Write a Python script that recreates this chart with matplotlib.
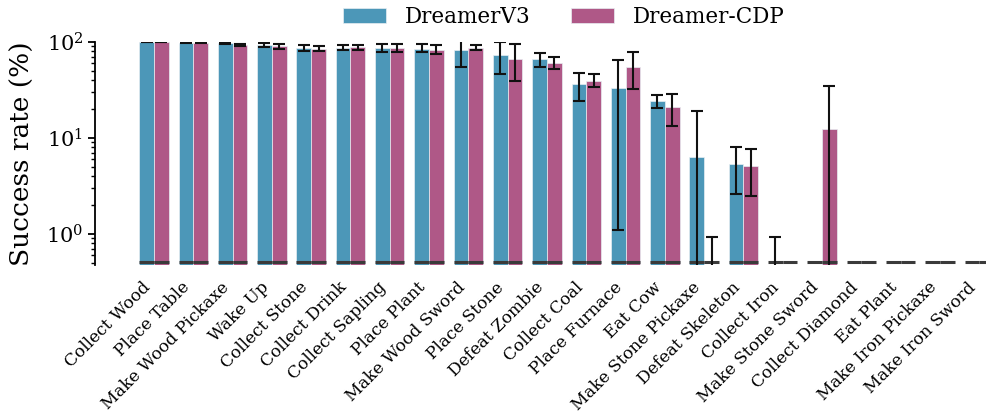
import numpy as np
import matplotlib
matplotlib.use("Agg")
import matplotlib.pyplot as plt

plt.rcParams['font.family'] = ['DejaVu Serif']
plt.rcParams['mathtext.fontset'] = 'dejavuserif'

# tareas de Crafter
tasks = ["Collect Wood", "Place Table", "Make Wood Pickaxe", "Wake Up",
         "Collect Stone", "Collect Drink", "Collect Sapling", "Place Plant",
         "Make Wood Sword", "Place Stone", "Defeat Zombie", "Collect Coal",
         "Place Furnace", "Eat Cow", "Make Stone Pickaxe", "Defeat Skeleton",
         "Collect Iron", "Make Stone Sword", "Collect Diamond", "Eat Plant",
         "Make Iron Pickaxe", "Make Iron Sword"]

# DreamerV3: media, limite inferior, limite superior
v3 = [99.5, 98.3, 97.5, 93, 87, 87, 87, 85.5, 83, 73, 66.5, 36.5,
      33, 24, 6.4, 5.4, 0, 0, 0, 0, 0, 0]
v3_lo = [99, 97.5, 96, 88.5, 81, 83, 79, 78, 55, 46.5, 55.5, 24.5,
         1.1, 20.3, 0, 2.6, 0, 0, 0, 0, 0, 0]
v3_hi = [100, 99, 99, 98, 94, 93, 96, 94.5, 110, 99.5, 77.5, 48,
         65, 27.8, 19.2, 8.1, 0.93, 0, 0, 0, 0, 0]

# Dreamer-CDP
cdp = [99.5, 98.5, 93.7, 90, 85, 88.5, 87, 83, 86.5, 66.5, 61, 39.5,
       55, 21, 0, 5.15, 0, 12.5, 0, 0, 0, 0]
cdp_lo = [99, 97.5, 91, 85, 80, 82, 78, 75.5, 83, 39, 52.3, 34,
          32, 13.4, 0, 2.5, 0, 0, 0, 0, 0, 0]
cdp_hi = [100, 99.5, 96, 96, 91.5, 94, 96, 93, 92, 94.5, 69, 46.7,
          78.7, 29, 0.92, 7.7, 0, 34.5, 0, 0, 0, 0]

c_v3 = '#4c97b8'
c_cdp = '#af5887'
w = 0.375
base = 0.51

fig = plt.figure(figsize=(9.87, 4.15), dpi=100)
ax = fig.add_axes([95/987, 1-265/415, 23*39.3/987, 223/415])
ax.set_yscale('log')

x = np.arange(len(tasks))
series = [(v3, v3_lo, v3_hi, c_v3, 'DreamerV3', -w/2),
          (cdp, cdp_lo, cdp_hi, c_cdp, 'Dreamer-CDP', w/2)]
handles = []
for val, lo, hi, col, lab, off in series:
    val = np.array(val, float)
    lo = np.array(lo, float)
    hi = np.array(hi, float)
    h = ax.bar(x + off, np.where(val > 0, val, np.nan), w, bottom=0.01,
               color=col, edgecolor='#e8eef2', linewidth=0.5,
               label=lab, zorder=2)
    handles.append(h)
    # linea oscura en la base
    ax.hlines([base]*len(x), x + off - w/2, x + off + w/2, color='#3a3a3a',
              linewidth=2.2, zorder=3)
    # barras de error
    m = hi > 0
    lo = np.where(lo > 0, lo, 0.1)
    y = np.where(val > 0, val, hi)
    ax.errorbar((x + off)[m], y[m], yerr=[(y-lo)[m], (hi-y)[m]], fmt='none',
                ecolor='#111111', elinewidth=1.5, capsize=4.5, capthick=1.5,
                zorder=4)

ax.set_xlim(-1.5, 21.5)
ax.set_ylim(0.475, 100)
ax.set_xticks(x)
ax.set_xticklabels(tasks, rotation=45, ha='right', fontsize=12.2)
ax.tick_params(axis='x', length=0, pad=10)
ax.tick_params(axis='y', which='major', length=5, width=1.3, labelsize=15)
ax.tick_params(axis='y', which='minor', length=3, width=1.0)
ax.set_ylabel('Success rate (%)', fontsize=19, labelpad=8)
for s in ['top', 'right', 'bottom']:
    ax.spines[s].set_visible(False)
ax.spines['left'].set_linewidth(1.3)

fig.legend(handles=handles, loc='center', bbox_to_anchor=(0.571, 0.96),
           ncol=2, frameon=False, fontsize=15.5, handlelength=2,
           handletextpad=0.85, columnspacing=1.9)

fig.savefig('out.png', dpi=100)
